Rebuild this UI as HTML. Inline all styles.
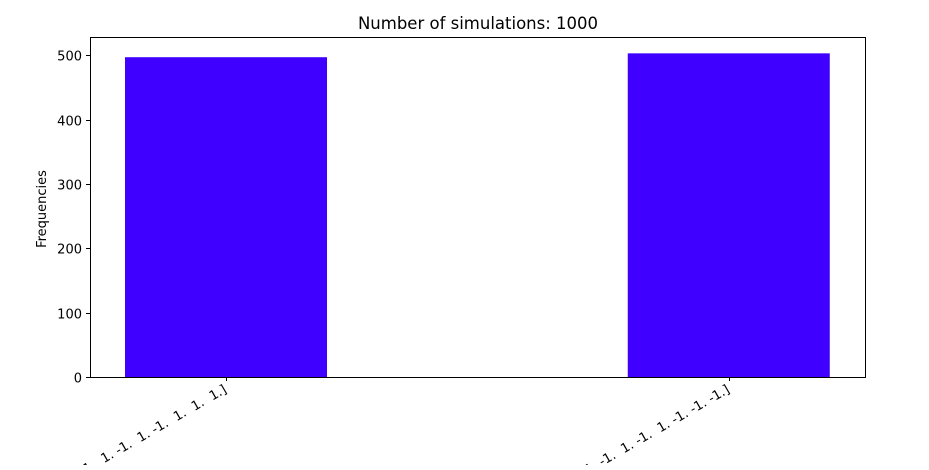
<!DOCTYPE html>
<html><head><meta charset="utf-8"><style>
html,body{margin:0;padding:0;background:#fff;}
svg text{font-family:"DejaVu Sans","Liberation Sans",sans-serif;fill:#000;}
</style></head><body>
<svg id="chart" width="929" height="465">
<text x="478" y="29" font-size="16.5" text-anchor="middle">Number of simulations: 1000</text>
<text transform="translate(46,209) rotate(-90)" font-size="13" text-anchor="middle">Frequencies</text>
<g id="bars"></g>
<g id="yticks"></g>
<g id="xticks"></g>
<rect x="90.5" y="37.5" width="775" height="340" fill="none" stroke="#000" stroke-width="1"/>
</svg>
<script>
const categories = ["[-1.  1. -1.  1. -1.  1.  1.  1.]", "[ 1. -1.  1. -1.  1. -1. -1. -1.]"];
const counts = [497, 503];
const yTicks = [0, 100, 200, 300, 400, 500];

const L = 90, R = 865, T = 37, B = 377, yMax = 528.4;
const ns = "http://www.w3.org/2000/svg";
function y(v){ return B - v / yMax * (B - T); }
function xc(i){ return L + (R - L) * (0.0449 + i * 0.6487 + 0.1306); }
const barW = 202;

const bars = document.getElementById('bars');
counts.forEach((c, i) => {
  const r = document.createElementNS(ns, 'rect');
  r.setAttribute('x', xc(i) - barW / 2);
  r.setAttribute('y', y(c));
  r.setAttribute('width', barW);
  r.setAttribute('height', y(0) - y(c));
  r.setAttribute('fill', '#4000ff');
  
  
  bars.appendChild(r);
});

const yt = document.getElementById('yticks');
yTicks.forEach(t => {
  const yy = Math.round(y(t)) + 0.5;
  const l = document.createElementNS(ns, 'line');
  l.setAttribute('x1', L - 4); l.setAttribute('x2', L);
  l.setAttribute('y1', yy); l.setAttribute('y2', yy);
  l.setAttribute('stroke', '#000');
  
  
  yt.appendChild(l);
  const tx = document.createElementNS(ns, 'text');
  tx.setAttribute('x', L - 8); tx.setAttribute('y', yy + 5);
  tx.setAttribute('font-size', '13'); tx.setAttribute('text-anchor', 'end');
  tx.textContent = t;
  
  
  yt.appendChild(tx);
});

const xt = document.getElementById('xticks');
categories.forEach((c, i) => {
  const xx = Math.round(xc(i)) + 0.5;
  const l = document.createElementNS(ns, 'line');
  l.setAttribute('x1', xx); l.setAttribute('x2', xx);
  l.setAttribute('y1', B); l.setAttribute('y2', B + 4);
  l.setAttribute('stroke', '#000');
  
  
  xt.appendChild(l);
  const tx = document.createElementNS(ns, 'text');
  tx.setAttribute('transform', 'translate(' + (xx + 1) + ',' + (B + 15) + ') rotate(-30)');
  tx.setAttribute('font-size', '13'); tx.setAttribute('text-anchor', 'end');
  tx.setAttribute('xml:space', 'preserve');
  tx.style.whiteSpace = 'pre';
  tx.textContent = c;
  
  
  xt.appendChild(tx);
});
</script>
</body></html>
